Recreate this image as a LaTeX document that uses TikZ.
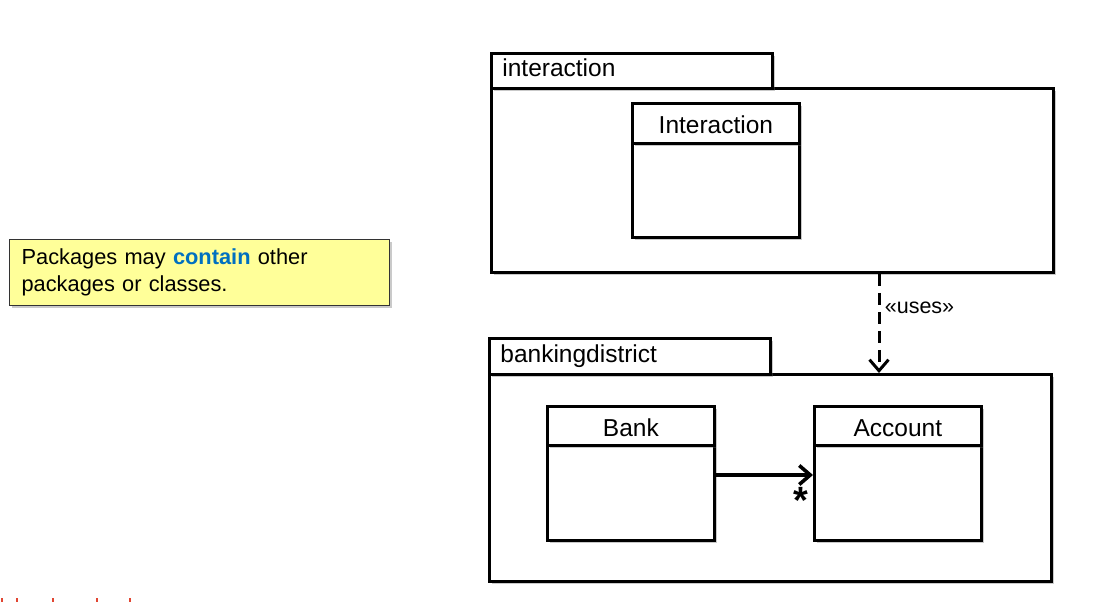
\documentclass[tikz,border=0pt]{standalone}
\usepackage{fontspec}
\setmainfont{Liberation Sans}
\usetikzlibrary{arrows.meta,shadows}

\definecolor{noteyellow}{RGB}{255,255,153}
\definecolor{keyblue}{RGB}{0,112,192}
\definecolor{tickred}{RGB}{225,70,50}

\tikzset{
	umlshadow/.style={drop shadow={shadow xshift=2.5pt, shadow yshift=-2.5pt, opacity=0.35, fill=black!60}},
	pkgtab/.style={draw, line width=2.8pt, fill=white, umlshadow, anchor=north west, inner xsep=10pt, inner ysep=0pt,
		minimum width=281pt, minimum height=35pt, text width=259pt, align=left,
		text height=18pt, text depth=6pt, font=\fontsize{24.5}{27}\selectfont},
	pkgbody/.style={draw, line width=2.8pt, fill=white, umlshadow, anchor=north west, minimum width=562pt},
	classhead/.style={draw, line width=2.8pt, fill=white, umlshadow, anchor=north west, minimum width=167pt,
		minimum height=40pt, inner ysep=0pt, text height=21.5pt, text depth=0.5pt, font=\fontsize{24.5}{27}\selectfont},
	classbody/.style={draw, line width=2.8pt, fill=white, umlshadow, anchor=north west, minimum width=167pt},
	note/.style={draw=black!80, line width=1.2pt, fill=noteyellow, umlshadow, anchor=north west,
		minimum width=380pt, minimum height=66pt, inner xsep=12pt, text width=356pt, align=left,
		font=\fontsize{21.8}{27}\selectfont},
	uses/.style={line width=3pt, dash pattern=on 12pt off 7pt, -{Straight Barb[length=11pt,width=19pt,line width=3pt]}},
	assoc/.style={line width=3.6pt, -{Straight Barb[length=11pt,width=19pt,line width=3.6pt]}}
}

\begin{document}
\begin{tikzpicture}[x=1pt,y=-1pt]
	\useasboundingbox (0,0) rectangle (1101,602);
	
	%note
	\node[note] (note) at (9,239){Packages may \textbf{\color{keyblue}contain} other\\packages or classes.};
	
	%package interaction
	\node[pkgbody, minimum height=184pt] (ibody) at (490,87){};
	\node[pkgtab] (itab) at (490,52){interaction};
	\node[classbody, minimum height=94pt] (interb) at (631,142){};
	\node[classhead] (inter) at (631,102){Interaction};
	
	%package bankingdistrict
	\node[pkgbody, minimum height=207pt] (bdbody) at (488,373){};
	\node[pkgtab, minimum height=36pt] (bdtab) at (488,337){bankingdistrict};
	\node[classbody, minimum height=95pt] (bankb) at (546,444){};
	\node[classhead, minimum height=39pt] (bank) at (546,405){Bank};
	\node[classbody, minimum height=95pt] (accountb) at (813,444){};
	\node[classhead, minimum height=39pt] (account) at (813,405){Account};
	
	%dependency
	\coordinate (usesx) at (879,0);
	\draw[uses] (ibody.south -| usesx) -- (bdbody.north -| usesx)
		node[pos=0.34, right, xshift=1pt, font=\fontsize{21.5}{24}\selectfont]{«uses»};
	
	%association
	\coordinate (assocy) at (0,475);
	\draw[assoc] (bankb.east |- assocy) -- (accountb.west |- assocy);
	\node[font=\fontsize{38}{38}\selectfont\bfseries] (mult) at (801,500){*};
	
	%slide ticks
	\foreach \tx in {2,17,53,97,130}
		\draw[tickred, line width=1.5pt] (\tx,598) -- (\tx,602);

\end{tikzpicture}
\end{document}
